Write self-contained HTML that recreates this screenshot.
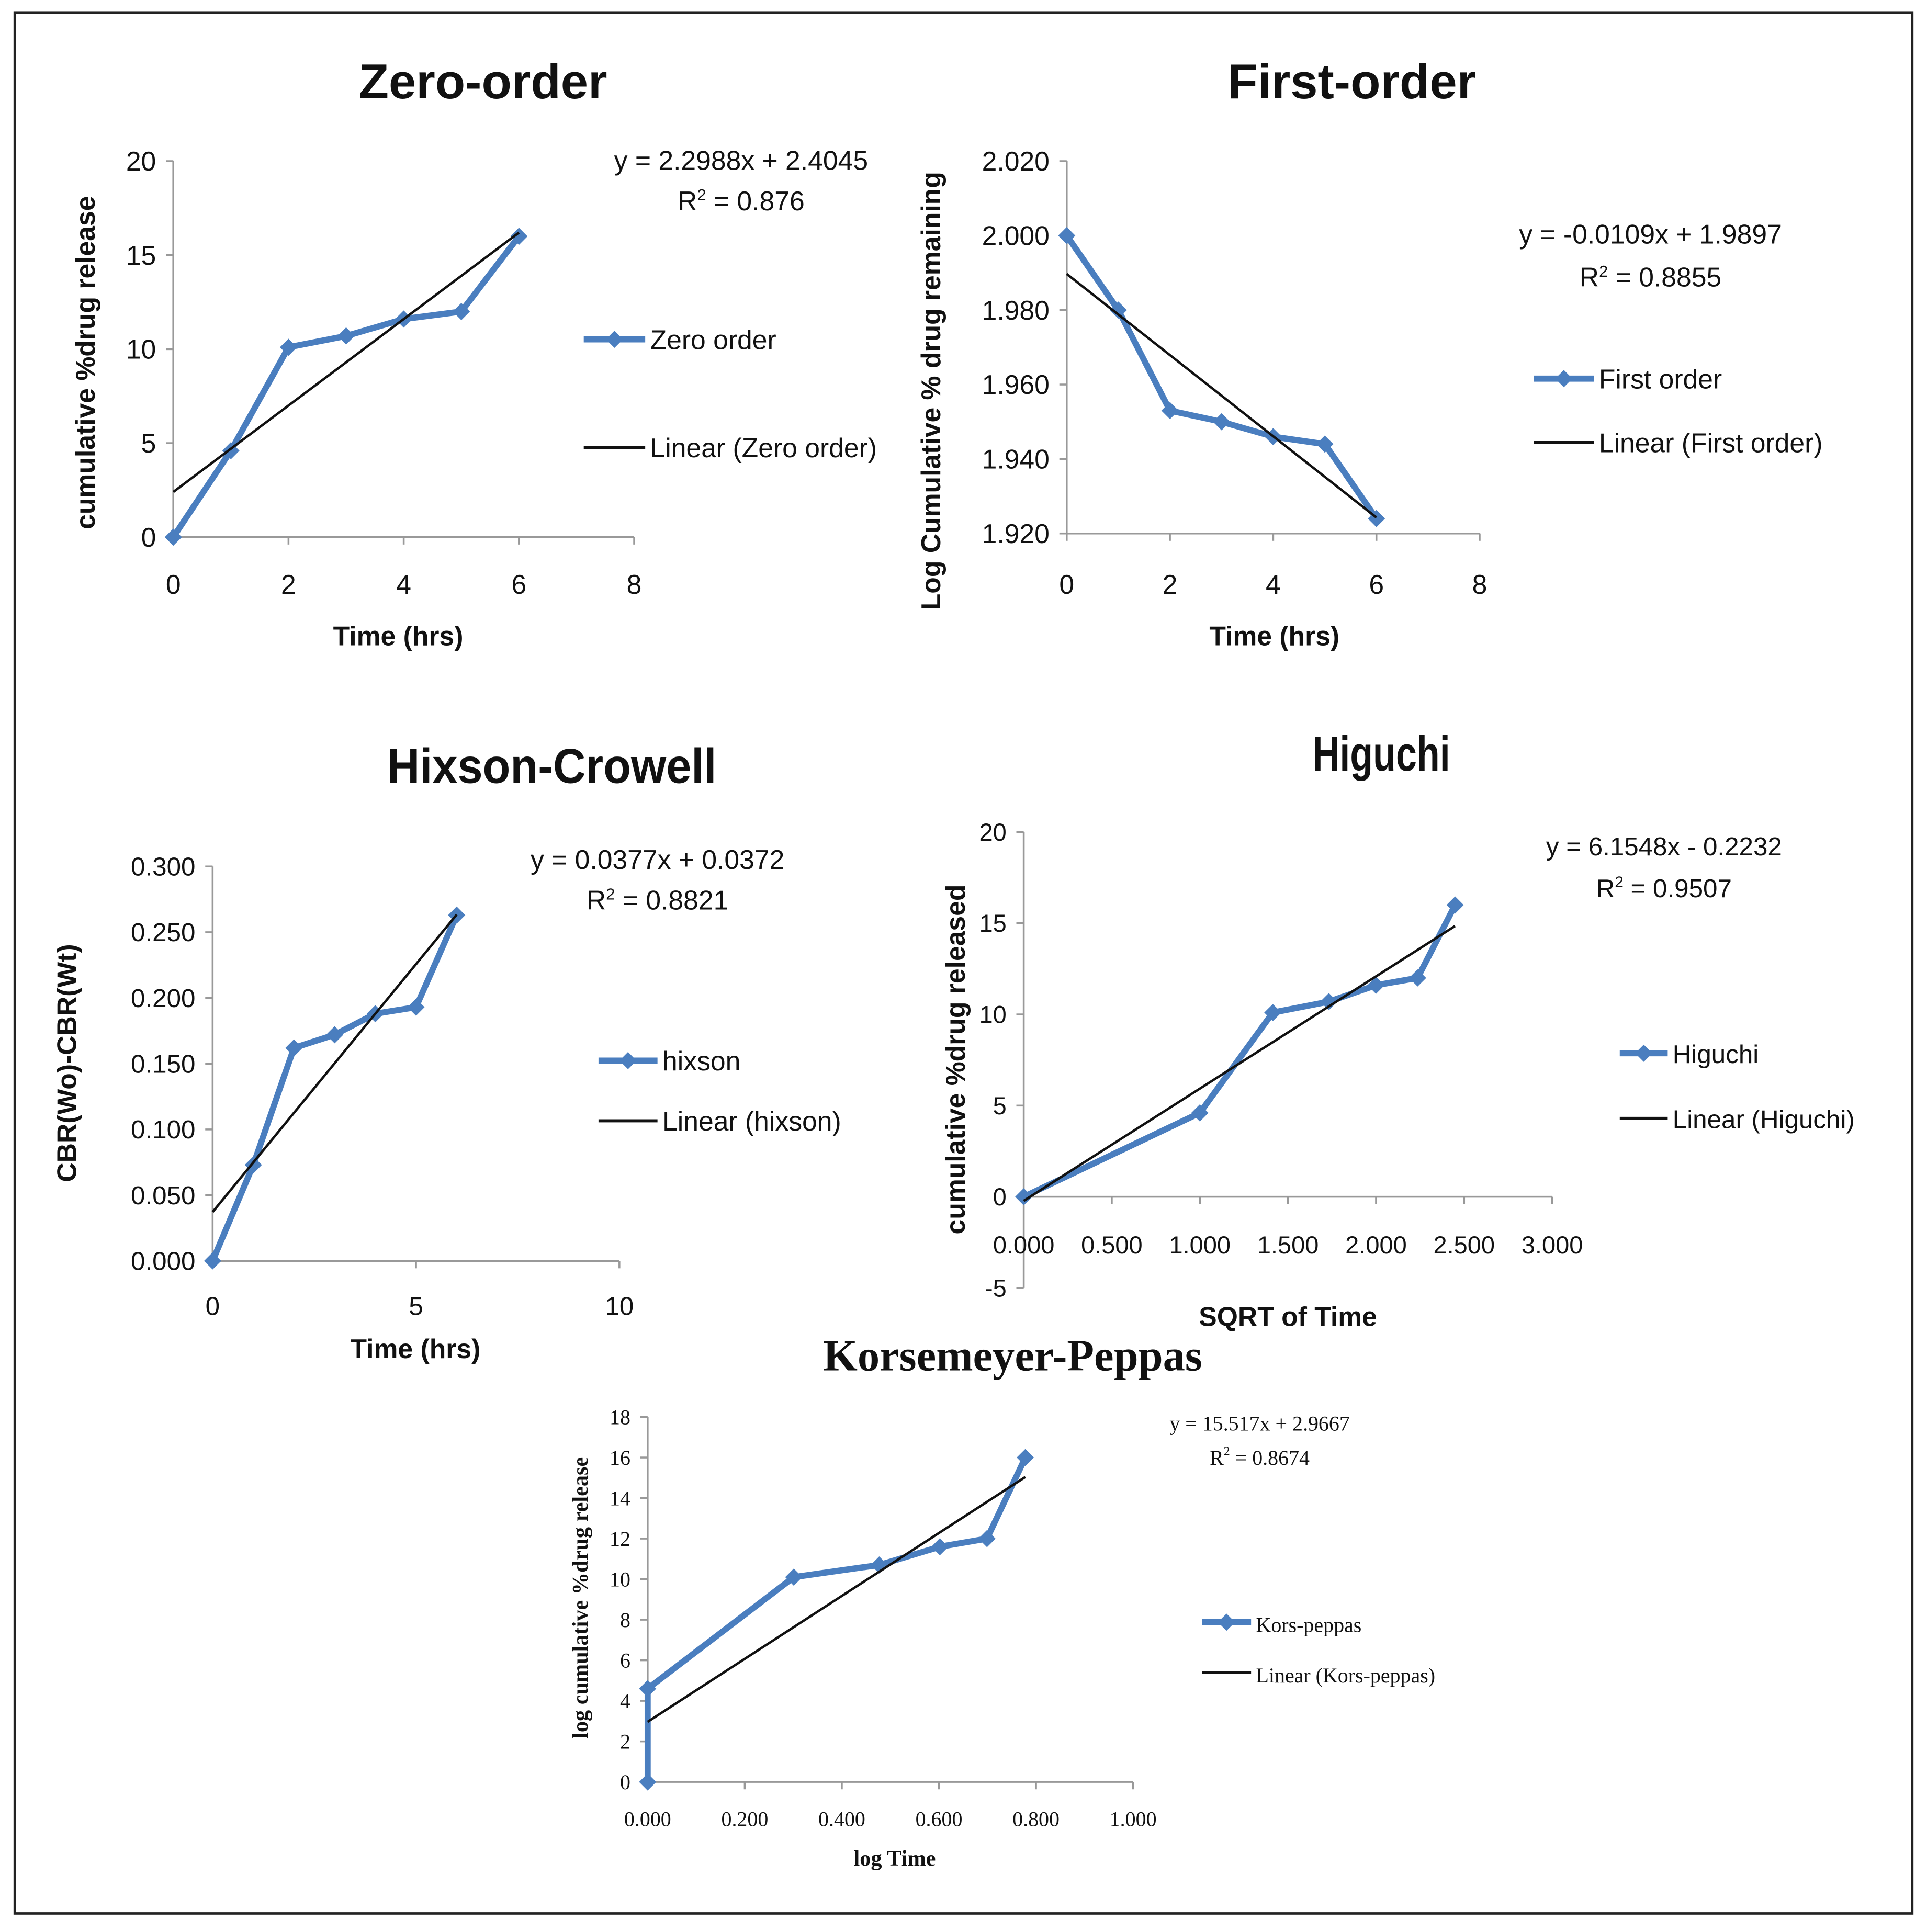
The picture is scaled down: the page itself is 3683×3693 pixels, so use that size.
<!DOCTYPE html>
<html><head><meta charset="utf-8"><style>
html,body{margin:0;padding:0;background:#fff}
svg{display:block}
text{font-family:"Liberation Sans",sans-serif;fill:#111}
.serif{font-family:"Liberation Serif",serif}
</style></head><body>
<svg id="root" width="3683" height="3693" viewBox="0 0 1568 1572" xmlns="http://www.w3.org/2000/svg">
<rect x="12" y="10" width="1544" height="1547" fill="#fff" stroke="#222" stroke-width="2"/>
</svg>
<script>
// ---- data ----
const zeroX=[0,1,2,3,4,5,6];
const zeroY=[0,4.6,10.1,10.7,11.6,12,16];
const firstX=[0,1,2,3,4,5,6];
const firstY=[2.000,1.980,1.953,1.950,1.946,1.944,1.924];
const hixX=[0,1,2,3,4,5,6];
const hixY=[0,0.073,0.162,0.172,0.188,0.193,0.263];
const higX=[0,1,1.414,1.732,2,2.236,2.449];
const higY=[0,4.6,10.1,10.7,11.6,12,16];
const kpX=[0,0,0.301,0.477,0.602,0.699,0.778];
const kpY=[0,4.6,10.1,10.7,11.6,12,16];
const zeroFit=[2.2988,2.4045];
const firstFit=[-0.0109,1.9897];
const hixFit=[0.0377,0.0372];
const higFit=[6.1548,-0.2232];
const kpFit=[15.517,2.9667];
const zeroXTicks=[0,2,4,6,8], zeroYTicks=[0,5,10,15,20];
const firstXTicks=[0,2,4,6,8], firstYTicks=[1.920,1.940,1.960,1.980,2.000,2.020];
const hixXTicks=[0,5,10], hixYTicks=[0,0.05,0.1,0.15,0.2,0.25,0.3];
const higXTicks=[0,0.5,1,1.5,2,2.5,3], higYTicks=[-5,0,5,10,15,20];
const kpXTicks=[0,0.2,0.4,0.6,0.8,1.0], kpYTicks=[0,2,4,6,8,10,12,14,16,18];

const NS="http://www.w3.org/2000/svg";
const root=document.getElementById('root');
function mk(tag,attrs,parent,txt){const e=document.createElementNS(NS,tag);for(const k in attrs)e.setAttribute(k,attrs[k]);if(txt!==undefined)e.textContent=txt;(parent||root).appendChild(e);return e;}

function chart(c){
  const g=mk('g',{});
  
  
  const sx=v=>c.x0+(v-c.xmin)/(c.xmax-c.xmin)*(c.x1-c.x0);
  const sy=v=>c.y0-(v-c.ymin)/(c.ymax-c.ymin)*(c.y0-c.y1);
  const cls=c.serif?'serif':'';
  const fs=c.fs||20;
  const ta={x:c.tx,y:c.ty,'text-anchor':'middle','font-size':c.tfs||40,'font-weight':'bold',class:cls};
  if(c.tlen){ta.textLength=c.tlen;ta.lengthAdjust='spacingAndGlyphs';}
  const t=mk('text',ta,g,c.title);
  
  
  const ax0=c.xAxisAt!==undefined?sy(c.xAxisAt):c.y0;
  const ya=mk('line',{x1:c.x0,y1:c.y0,x2:c.x0,y2:c.y1,stroke:'#999','stroke-width':1.5},g);
  
  
  const xa=mk('line',{x1:c.x0,y1:ax0,x2:c.x1,y2:ax0,stroke:'#999','stroke-width':1.5},g);
  
  
  c.yt.forEach(v=>{
    mk('line',{x1:c.x0-6,y1:sy(v),x2:c.x0,y2:sy(v),stroke:'#999','stroke-width':1.5},g);
    const l=mk('text',{x:c.x0-14,y:sy(v)+fs*0.35,'text-anchor':'end','font-size':fs,class:cls},g,v.toFixed(c.yd));
    
    
  });
  c.xt.forEach(v=>{
    mk('line',{x1:sx(v),y1:ax0,x2:sx(v),y2:ax0+6,stroke:'#999','stroke-width':1.5},g);
    const l=mk('text',{x:sx(v),y:(c.xly||ax0+38),'text-anchor':'middle','font-size':fs,class:cls},g,v.toFixed(c.xd));
    
    
  });
  const xl=mk('text',{x:c.xlx,y:c.xly2,'text-anchor':'middle','font-size':c.lfs||22,'font-weight':'bold',class:cls},g,c.xlabel);
  
  
  const yl=mk('text',{x:0,y:0,transform:`translate(${c.ylx},${c.yly}) rotate(-90)`,'text-anchor':'middle','font-size':c.lfs||22,'font-weight':'bold',class:cls},g,c.ylabel);
  
  
  const pts=c.X.map((x,i)=>sx(x)+','+sy(c.Y[i])).join(' ');
  const pl=mk('polyline',{points:pts,fill:'none',stroke:'#4a7ebf','stroke-width':5,'stroke-linejoin':'round'},g);
  
  
  c.X.forEach((x,i)=>{
    const px=sx(x),py=sy(c.Y[i]),r=7;
    const m=mk('polygon',{points:`${px},${py-r} ${px+r},${py} ${px},${py+r} ${px-r},${py}`,fill:'#4a7ebf'},g);
    
    
  });
  const xs=c.X[0],xe=c.X[c.X.length-1];
  const tr=mk('line',{x1:sx(xs),y1:sy(c.fit[0]*xs+c.fit[1]),x2:sx(xe),y2:sy(c.fit[0]*xe+c.fit[1]),stroke:'#111','stroke-width':2},g);
  
  
  const e1=mk('text',{x:c.ex,y:c.ey,'text-anchor':'middle','font-size':c.efs||22,class:cls},g,c.eq);
  
  
  const e2=mk('text',{x:c.ex,y:c.ey+c.egap,'text-anchor':'middle','font-size':c.efs||22,class:cls},g);
  e2.innerHTML='R<tspan dy="-8" font-size="'+((c.efs||22)*0.6)+'">2</tspan><tspan dy="8"> = '+c.r2+'</tspan>';
  
  
  const lg=mk('g',{},g);
  
  
  mk('line',{x1:c.lx,y1:c.ly1,x2:c.lx+c.lw,y2:c.ly1,stroke:'#4a7ebf','stroke-width':5},lg);
  const mx=c.lx+c.lw/2;
  mk('polygon',{points:`${mx},${c.ly1-7} ${mx+7},${c.ly1} ${mx},${c.ly1+7} ${mx-7},${c.ly1}`,fill:'#4a7ebf'},lg);
  const le1=mk('text',{x:c.lx+c.lw+4,y:c.ly1+8,'font-size':c.efs||22,class:cls},lg,c.leg1);
  
  
  mk('line',{x1:c.lx,y1:c.ly2,x2:c.lx+c.lw,y2:c.ly2,stroke:'#111','stroke-width':2.5},lg);
  const le2=mk('text',{x:c.lx+c.lw+4,y:c.ly2+8,'font-size':c.efs||22,class:cls},lg,c.leg2);
  
  
}

chart({name:'zero-order',title:'Zero-order',tx:393,ty:80,X:zeroX,Y:zeroY,fit:zeroFit,
 x0:141,x1:516,xmin:0,xmax:8,y0:437,y1:131,ymin:0,ymax:20,xt:zeroXTicks,yt:zeroYTicks,xd:0,yd:0,fs:22,
 xly:483,xlabel:'Time (hrs)',xlx:324,xly2:525,ylabel:'cumulative %drug release',ylx:77,yly:295,
 eq:'y = 2.2988x + 2.4045',r2:'0.876',ex:603,ey:138,egap:33,lx:475,lw:50,ly1:276,ly2:364,leg1:'Zero order',leg2:'Linear (Zero order)'});
chart({name:'first-order',title:'First-order',tx:1100,ty:80,X:firstX,Y:firstY,fit:firstFit,
 x0:868,x1:1204,xmin:0,xmax:8,y0:434,y1:131,ymin:1.92,ymax:2.02,xt:firstXTicks,yt:firstYTicks,xd:0,yd:3,fs:22,
 xly:483,xlabel:'Time (hrs)',xlx:1037,xly2:525,ylabel:'Log Cumulative % drug remaining',ylx:765,yly:318,
 eq:'y = -0.0109x + 1.9897',r2:'0.8855',ex:1343,ey:198,egap:35,lx:1248,lw:49,ly1:308,ly2:360,leg1:'First order',leg2:'Linear (First order)'});
chart({name:'hixson-crowell',title:'Hixson-Crowell',tlen:268,tx:449,ty:637,X:hixX,Y:hixY,fit:hixFit,
 x0:173,x1:504,xmin:0,xmax:10,y0:1026,y1:705,ymin:0,ymax:0.3,xt:hixXTicks,yt:hixYTicks,xd:0,yd:3,fs:21,
 xly:1070,xlabel:'Time (hrs)',xlx:338,xly2:1105,ylabel:'CBR(Wo)-CBR(Wt)',ylx:62,yly:865,
 eq:'y = 0.0377x + 0.0372',r2:'0.8821',ex:535,ey:707,egap:33,lx:487,lw:48,ly1:863,ly2:912,leg1:'hixson',leg2:'Linear (hixson)'});
chart({name:'higuchi',title:'Higuchi',tlen:112,tx:1124,ty:627,X:higX,Y:higY,fit:higFit,
 x0:833,x1:1263,xmin:0,xmax:3,y0:1048,y1:677,ymin:-5,ymax:20,xAxisAt:0,xt:higXTicks,yt:higYTicks,xd:3,yd:0,fs:20,
 xly:1020,xlabel:'SQRT of Time',xlx:1048,xly2:1079,ylabel:'cumulative %drug released',ylx:785,yly:862,
 eq:'y = 6.1548x - 0.2232',r2:'0.9507',ex:1354,ey:696,egap:34,lx:1318,lw:39,ly1:857,ly2:910,leg1:'Higuchi',leg2:'Linear (Higuchi)',efs:21});
chart({name:'korsmeyer-peppas',title:'Korsemeyer-Peppas',tx:824,ty:1115,tfs:36,serif:true,X:kpX,Y:kpY,fit:kpFit,
 x0:527,x1:922,xmin:0,xmax:1,y0:1450,y1:1153,ymin:0,ymax:18,xt:kpXTicks,yt:kpYTicks,xd:3,yd:0,fs:17,
 xly:1486,xlabel:'log Time',xlx:728,xly2:1518,lfs:18,ylabel:'log cumulative %drug release',ylx:478,yly:1300,
 eq:'y = 15.517x + 2.9667',r2:'0.8674',ex:1025,ey:1164,egap:28,efs:17,lx:978,lw:40,ly1:1320,ly2:1361,leg1:'Kors-peppas',leg2:'Linear (Kors-peppas)'});
</script>
</body></html>
